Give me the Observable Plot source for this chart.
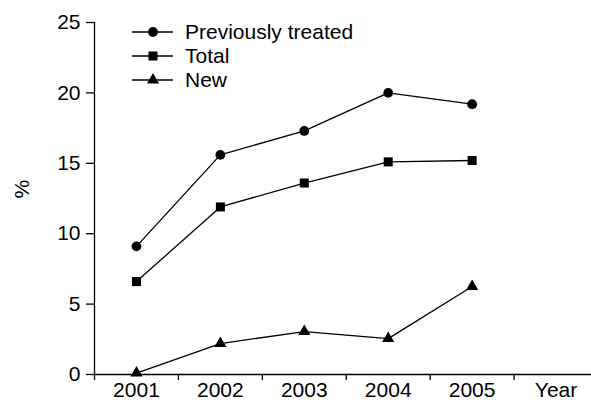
<!DOCTYPE html>
<html>
<head>
<meta charset="utf-8">
<script src="https://cdn.jsdelivr.net/npm/d3@7"></script>
<script src="https://cdn.jsdelivr.net/npm/@observablehq/plot@0.6"></script>
<style>
  html, body { margin: 0; padding: 0; background: #fff; }
  #wrap { position: relative; width: 591px; height: 408px; font-family: "Liberation Sans", Arial, sans-serif; }
  #wrap svg { display: block; }
  #legend { position: absolute; left: 0; top: 0; }
</style>
</head>
<body>
<div id="wrap"></div>
<script>
// ---- data ----
const years = [2001, 2002, 2003, 2004, 2005];
const xLabels = ["2001", "2002", "2003", "2004", "2005", "Year"];
const seriesNames = ["Previously treated", "Total", "New"];
const seriesSymbols = ["circle", "square", "triangle"];
const previouslyTreated = [9.1, 15.6, 17.3, 20.0, 19.2];
const total = [6.6, 11.9, 13.6, 15.1, 15.2];
const newCases = [0.1, 2.2, 3.05, 2.55, 6.25];
const yTicks = [0, 5, 10, 15, 20, 25];

const seriesValues = [previouslyTreated, total, newCases];
const rows = [];
seriesNames.forEach((name, s) => {
  years.forEach((yr, i) => rows.push({series: name, symbol: seriesSymbols[s], year: yr, value: seriesValues[s][i]}));
});

// positions of x categories (years + "Year" slot)
const xCenters = xLabels.map((_, i) => years[0] + i);
const xBounds = xLabels.map((_, i) => years[0] - 0.5 + i);

const symR = {circle: 4.9, square: 5.1, triangle: 4.5};
const font = "Liberation Sans, Arial, sans-serif";
const fs = 21;
const chart = Plot.plot({
  width: 591,
  height: 408,
  marginLeft: 94,
  marginRight: 0,
  marginTop: 22,
  marginBottom: 34,
  style: {fontFamily: font, fontSize: fs + "px", color: "#000", background: "#fff"},
  x: {domain: [xBounds[0], xBounds[0] + xLabels.length], range: [94, 597.5]},
  y: {domain: [0, 25]},
  r: {type: "identity"},
  marks: [
    Plot.ruleX([xBounds[0]], {stroke: "#000", strokeWidth: 1.3}),
    Plot.ruleY([0], {stroke: "#000", strokeWidth: 1.3}),
    Plot.axisY({ticks: yTicks, tickSize: 8, tickPadding: 6, label: null, fontSize: fs, strokeWidth: 1.3}),
    Plot.axisX({ticks: xBounds, tickSize: 6, tickFormat: () => "", label: null, strokeWidth: 1.3}),
    Plot.axisX({ticks: xCenters, tickSize: 0, tickPadding: 8, label: null, fontSize: fs,
      tickFormat: (d) => xLabels[Math.round(d - years[0])]}),
    Plot.line(rows, {x: "year", y: "value", z: "series", stroke: "#000", strokeWidth: 1.3}),
    Plot.dot(rows, {x: "year", y: "value", symbol: "symbol", fill: "#000", stroke: "none",
      r: (d) => symR[d.symbol]}),
    Plot.text(["%"], {frameAnchor: "left", text: (d) => d, rotate: -90, dx: -72, fontSize: fs})
  ]
});
document.getElementById("wrap").appendChild(chart);

// ---- legend (overlay) ----
const legend = d3.select("#wrap").append("svg")
  .attr("id", "legend").attr("width", 591).attr("height", 110)
  .style("font-family", font).style("font-size", fs + "px");
const g = legend.selectAll("g").data(seriesNames).join("g")
  .attr("transform", (d, i) => `translate(0, ${32 + i * 24})`);
g.append("line").attr("x1", 132).attr("x2", 173).attr("stroke", "#000").attr("stroke-width", 1.3);
const symMap = {circle: d3.symbolCircle, square: d3.symbolSquare, triangle: d3.symbolTriangle};
g.append("path")
  .attr("transform", "translate(153,0)")
  .attr("d", (d, i) => d3.symbol(symMap[seriesSymbols[i]], Math.PI * symR[seriesSymbols[i]] ** 2)())
  .attr("fill", "#000");
g.append("text").attr("x", 185).attr("dy", "0.35em").text((d) => d);
</script>
</body>
</html>
